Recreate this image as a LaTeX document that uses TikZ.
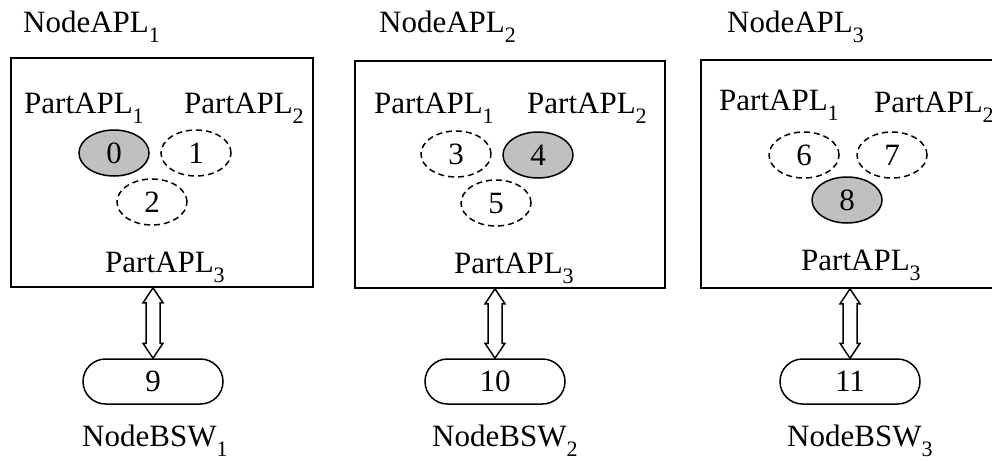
\documentclass[tikz,border=0pt]{standalone}
\usepackage{fontspec}
\setmainfont{Liberation Serif}
\usetikzlibrary{shapes.geometric,shapes.misc,positioning,calc}
\definecolor{partgray}{HTML}{C0C0C0}
\newcommand{\sbs}[1]{\raisebox{-10pt}{\fontsize{22}{22}\selectfont #1}}
% hollow two-headed arrow between a node box and its BSW node
\newcommand{\biarrow}[2]{%
  \path[link] let \p1=(#1.south), \p2=(#2.north) in
    (\x2,\y1) -- (\x2+10pt,\y1-15pt) -- (\x2+7pt,\y1-15pt) -- (\x2+7pt,\y2+15pt)
    -- (\x2+10pt,\y2+15pt) -- (\x2,\y2) -- (\x2-10pt,\y2+15pt) -- (\x2-7pt,\y2+15pt)
    -- (\x2-7pt,\y1-15pt) -- (\x2-10pt,\y1-15pt) -- cycle;}

\begin{document}
\begin{tikzpicture}[x=1pt,y=-1pt,
  every node/.style={font=\fontsize{31}{34}\selectfont},
  lbl/.style={anchor=base west,inner sep=0pt},
  nodebox/.style={draw,line width=1.7pt,inner sep=0pt},
  part/.style={ellipse,draw,line width=1.5pt,minimum width=70pt,minimum height=46pt,inner sep=0pt},
  idle/.style={part,dash pattern=on 6pt off 4pt},
  active/.style={part,fill=partgray},
  bsw/.style={rounded rectangle,draw,line width=1.5pt,minimum width=140pt,minimum height=45pt,inner sep=0pt},
  link/.style={draw,line width=1.5pt,fill=white}
]
\useasboundingbox (0,0) rectangle (992,460);
\clip (0,0) rectangle (992,460);

% application nodes
\node[nodebox,minimum width=302pt,minimum height=229pt] (apl1) at (162,172.5) {};
\node[nodebox,minimum width=310pt,minimum height=227pt] (apl2) at (510,174.5) {};
\node[nodebox,minimum width=310pt,minimum height=228pt] (apl3) at (856,174) {};
\node[lbl] (apl1name) at (23,33) {NodeAPL\sbs{1}};
\node[lbl] (apl2name) at (379,33) {NodeAPL\sbs{2}};
\node[lbl] (apl3name) at (727,33) {NodeAPL\sbs{3}};

% partitions
\node[lbl] (p11) at (24,113) {PartAPL\sbs{1}};
\node[lbl] (p12) at (184,113) {PartAPL\sbs{2}};
\node[lbl] (p13) at (105,272) {PartAPL\sbs{3}};
\node[active] (t0) at (114,153) {0};
\node[idle] (t1) at (196,153) {1};
\node[idle] (t2) at (152,202) {2};

\node[lbl] (p21) at (374,113) {PartAPL\sbs{1}};
\node[lbl] (p22) at (527,113) {PartAPL\sbs{2}};
\node[lbl] (p23) at (454,273) {PartAPL\sbs{3}};
\node[idle] (t3) at (456,154) {3};
\node[active] (t4) at (538,155) {4};
\node[idle] (t5) at (496,203) {5};

\node[lbl] (p31) at (719,110) {PartAPL\sbs{1}};
\node[lbl] (p32) at (874,112) {PartAPL\sbs{2}};
\node[lbl] (p33) at (801,270) {PartAPL\sbs{3}};
\node[idle] (t6) at (804,155) {6};
\node[idle] (t7) at (892,155) {7};
\node[active] (t8) at (847,200) {8};

% basic software nodes
\node[bsw] (bsw1) at (153,381.5) {9};
\node[bsw] (bsw2) at (495,381.5) {10};
\node[bsw] (bsw3) at (850,381.5) {11};
\node[lbl] (bsw1name) at (82,446) {NodeBSW\sbs{1}};
\node[lbl] (bsw2name) at (432,446) {NodeBSW\sbs{2}};
\node[lbl] (bsw3name) at (787,446) {NodeBSW\sbs{3}};

\biarrow{apl1}{bsw1}
\biarrow{apl2}{bsw2}
\biarrow{apl3}{bsw3}
\end{tikzpicture}
\end{document}
